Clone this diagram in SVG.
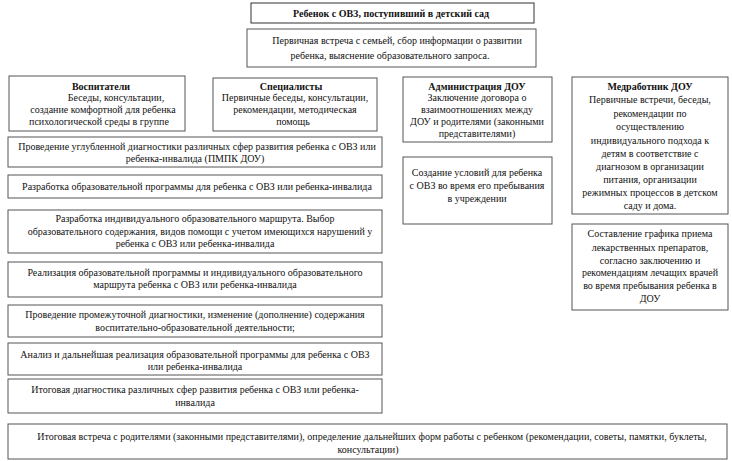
<svg xmlns="http://www.w3.org/2000/svg" width="732" height="461" viewBox="0 0 732 461">
<style>
rect{fill:#fff;stroke:#555;stroke-width:1}
text{font-family:"Liberation Serif","Times New Roman",serif;font-size:10px;fill:#111;text-anchor:middle}
.b{font-weight:bold}
</style>
<rect x="0" y="0" width="732" height="461" style="fill:#fff;stroke:none"/>
<g id="connectors"></g>
<g id="n_title"><rect x="251" y="3" width="283" height="20" style="stroke:#333"/><text class="b" x="391" y="17">Ребенок с ОВЗ, поступивший в детский сад</text></g>
<g id="n_meet"><rect x="247" y="29" width="289" height="38"/><text x="397" y="44">Первичная встреча с семьей, сбор информации о развитии</text><text x="390" y="59">ребенка, выяснение образовательного запроса.</text></g>
<g id="n_vosp"><rect x="9" y="76" width="176" height="55"/><text class="b" x="101" y="90">Воспитатели</text><text x="116" y="101">Беседы,  консультации,</text><text x="103" y="113">создание комфортной для ребенка</text><text x="99" y="125">психологической среды в группе</text></g>
<g id="n_spec"><rect x="213" y="78" width="164" height="53"/><text class="b" x="291" y="90">Специалисты</text><text x="295" y="101">Первичные беседы, консультации,</text><text x="295" y="113">рекомендации, методическая</text><text x="293" y="125">помощь</text></g>
<g id="n_adm"><rect x="403" y="77" width="149" height="65"/><text class="b" x="477" y="90">Администрация ДОУ</text><text x="477" y="101">Заключение договора о</text><text x="477" y="113">взаимоотношениях между</text><text x="477" y="125">ДОУ  и родителями (законными</text><text x="477" y="137">представителями)</text></g>
<g id="n_usl"><rect x="403" y="157" width="149" height="67"/><text x="477" y="176">Создание условий для ребенка</text><text x="477" y="189">с ОВЗ во время его пребывания</text><text x="477" y="202">в учреждении</text></g>
<g id="n_med"><rect x="572" y="77" width="156" height="137"/><text class="b" x="650" y="90">Медработник ДОУ</text><text x="650" y="103">Первичные встречи, беседы,</text><text x="650" y="117">рекомендации по</text><text x="650" y="130">осуществлению</text><text x="650" y="144">индивидуального подхода к</text><text x="650" y="157">детям в соответствие с</text><text x="650" y="170">диагнозом в организации</text><text x="650" y="183">питания, организации</text><text x="650" y="196">режимных процессов в детском</text><text x="650" y="209">саду и дома.</text></g>
<g id="n_graf"><rect x="572" y="224" width="156" height="86"/><text x="650" y="237">Составление графика приема</text><text x="650" y="251">лекарственных препаратов,</text><text x="650" y="264">согласно заключению  и</text><text x="650" y="276">рекомендациям лечащих врачей</text><text x="650" y="289">во время пребывания ребенка в</text><text x="650" y="302">ДОУ</text></g>
<g id="n_s1"><rect x="8" y="137" width="374" height="30"/><text x="197" y="150">Проведение углубленной диагностики различных сфер развития ребенка с ОВЗ или</text><text x="195" y="162">ребенка-инвалида (ПМПК ДОУ)</text></g>
<g id="n_s2"><rect x="8" y="175" width="374" height="23"/><text x="197" y="190">Разработка образовательной  программы для ребенка с ОВЗ или ребенка-инвалида</text></g>
<g id="n_s3"><rect x="8" y="210" width="374" height="43"/><text x="195" y="222">Разработка  индивидуального образовательного маршрута.  Выбор</text><text x="200" y="235">образовательного содержания, видов помощи с учетом имеющихся нарушений  у</text><text x="195" y="247">ребенка с ОВЗ или ребенка-инвалида</text></g>
<g id="n_s4"><rect x="8" y="262" width="374" height="35"/><text x="195" y="276">Реализация образовательной программы и индивидуального образовательного</text><text x="195" y="288">маршрута ребенка с ОВЗ или ребенка-инвалида</text></g>
<g id="n_s5"><rect x="8" y="305" width="374" height="32"/><text x="195" y="318">Проведение промежуточной диагностики, изменение (дополнение) содержания</text><text x="195" y="331">воспитательно-образовательной  деятельности;</text></g>
<g id="n_s6"><rect x="8" y="343" width="374" height="32"/><text x="195" y="358">Анализ и дальнейшая реализация образовательной программы для ребенка с ОВЗ</text><text x="195" y="370">или ребенка-инвалида</text></g>
<g id="n_s7"><rect x="8" y="379" width="374" height="34"/><text x="195" y="393">Итоговая диагностика различных сфер развития ребенка с ОВЗ или ребенка-</text><text x="195" y="406">инвалида</text></g>
<g id="n_final"><rect x="8" y="424" width="719" height="35"/><text x="372" y="440">Итоговая встреча с родителями (законными представителями), определение дальнейших форм работы с ребенком  (рекомендации, советы, памятки, буклеты,</text><text x="368" y="453">консультации)</text></g>
</svg>
